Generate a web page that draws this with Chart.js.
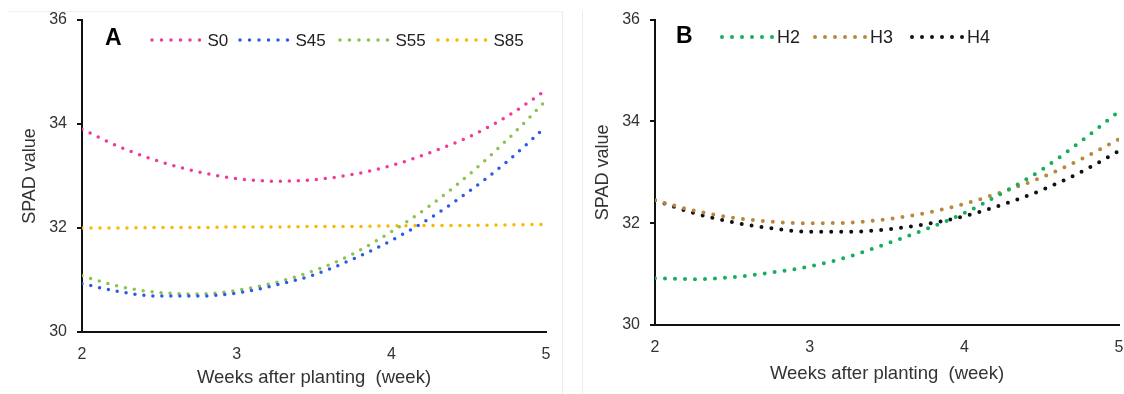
<!DOCTYPE html>
<html><head><meta charset="utf-8">
<script src="https://cdn.jsdelivr.net/npm/chart.js@4.4.1/dist/chart.umd.min.js"></script>
<style>
html,body{margin:0;padding:0;background:#fff;width:1124px;height:394px;overflow:hidden;position:relative;}
#wrapA{position:absolute;left:0;top:0;width:562px;height:394px;}
#wrapB{position:absolute;left:580px;top:0;width:570px;height:394px;}
.frameA{position:absolute;left:7px;top:11px;width:555px;height:390px;border-top:1px solid #f0f0f0;border-right:1px solid #ebebeb;}
.frameB{position:absolute;left:582px;top:11px;width:550px;height:390px;border-left:1px solid #ebebeb;}
canvas{position:absolute;left:0;top:0;}
</style></head><body>
<div class="frameA"></div><div class="frameB"></div>
<div id="wrapA"><canvas id="chartA" width="562" height="394"></canvas></div>
<div id="wrapB"><canvas id="chartB" width="570" height="394"></canvas></div>
<script>
// ---- data ----
const weeks = [2, 2.25, 2.5, 2.75, 3, 3.25, 3.5, 3.75, 4, 4.25, 4.5, 4.75, 5];
const xTickValues = [2, 3, 4, 5];
const yTickValues = [30, 32, 34, 36];

const namesA = ['S0', 'S45', 'S55', 'S85'];
const S0  = [33.90, 33.55, 33.28, 33.08, 32.95, 32.90, 32.93, 33.03, 33.20, 33.45, 33.75, 34.15, 34.65];
const S45 = [30.93, 30.77, 30.69, 30.69, 30.75, 30.90, 31.10, 31.40, 31.76, 32.19, 32.70, 33.28, 33.95];
const S55 = [31.08, 30.87, 30.76, 30.73, 30.80, 30.95, 31.18, 31.50, 31.93, 32.43, 33.02, 33.70, 34.45];
const S85 = [32.00, 32.00, 32.01, 32.01, 32.02, 32.02, 32.03, 32.03, 32.04, 32.05, 32.05, 32.06, 32.07];

const namesB = ['H2', 'H3', 'H4'];
const H2 = [30.92, 30.90, 30.94, 31.03, 31.15, 31.34, 31.60, 31.88, 32.20, 32.60, 33.05, 33.60, 34.20];
const H3 = [32.45, 32.25, 32.11, 32.03, 32.00, 32.01, 32.08, 32.20, 32.38, 32.62, 32.90, 33.25, 33.65];
const H4 = [32.45, 32.20, 32.02, 31.90, 31.83, 31.83, 31.88, 31.98, 32.14, 32.37, 32.65, 33.00, 33.42];

const xTitle = 'Weeks after planting  (week)';
const yTitle = 'SPAD value';
// --------------------------------------

const FONT = '"Liberation Sans", Arial, sans-serif';
Chart.defaults.font.family = FONT;

const insideLegend = {
  id: 'insideLegend',
  afterDraw(chart, args, o) {
    const ctx = chart.ctx;
    ctx.save();
    ctx.textBaseline = 'middle';
    ctx.textAlign = 'left';
    ctx.fillStyle = '#000';
    ctx.font = 'bold ' + o.letterSize + 'px ' + FONT;
    ctx.fillText(o.letter, o.letterX, o.letterY);
    chart.data.datasets.forEach((ds, i) => {
      const x0 = o.starts[i];
      ctx.beginPath();
      ctx.setLineDash([0, o.dotGap]);
      ctx.lineCap = 'round';
      ctx.lineWidth = o.dotSize;
      ctx.strokeStyle = ds.borderColor;
      ctx.moveTo(x0, o.y);
      ctx.lineTo(x0 + o.dotGap * 5 + 0.1, o.y);
      ctx.stroke();
      ctx.setLineDash([]);
      ctx.fillStyle = '#222';
      ctx.font = o.fontSize + 'px ' + FONT;
      ctx.fillText(ds.label, x0 + o.dotGap * 5 + o.textGap, o.y + 1);
    });
    ctx.restore();
  }
};

function makeDataset(label, values, color, dash, width) {
  return {
    label: label,
    data: weeks.map((w, i) => ({ x: w, y: values[i] })),
    borderColor: color,
    backgroundColor: color,
    borderWidth: width,
    borderDash: [0, dash],
    borderCapStyle: 'round',
    pointRadius: 0,
    fill: false,
    cubicInterpolationMode: 'monotone'
  };
}

function makeChart(id, H, area, datasets, legendOpts, yTitlePad, xTitlePad) {
  const W = document.getElementById(id).width;
  return new Chart(document.getElementById(id), {
    type: 'line',
    data: { datasets: datasets },
    options: {
      responsive: false,
      animation: false,
      devicePixelRatio: 1,
      layout: { padding: { left: 0, top: area.top, right: W - area.right, bottom: 0 } },
      plugins: {
        legend: { display: false },
        tooltip: { enabled: false },
        insideLegend: legendOpts
      },
      scales: {
        x: {
          type: 'linear', min: 2, max: 5,
          afterBuildTicks: s => { s.ticks = xTickValues.map(v => ({ value: v })); },
          afterFit: s => { s.height = H - area.bottom; },
          grid: { display: false },
          border: { display: true, color: '#111', width: 2 },
          ticks: { color: '#333', font: { size: 16 }, padding: 5, maxRotation: 0, autoSkip: false },
          title: { display: true, text: xTitle, color: '#333', font: { size: 18.5 }, padding: { top: 0, bottom: xTitlePad } }
        },
        y: {
          type: 'linear', min: 30, max: 36,
          afterBuildTicks: s => { s.ticks = yTickValues.map(v => ({ value: v })); },
          afterFit: s => { s.width = area.left; },
          grid: { display: true, drawOnChartArea: false, drawTicks: true, tickLength: 5, color: '#111', lineWidth: 2 },
          border: { display: true, color: '#111', width: 2 },
          ticks: { color: '#333', font: { size: 16 }, padding: 10 },
          title: { display: true, text: yTitle, color: '#333', font: { size: 18 }, padding: { top: yTitlePad, bottom: 0 } }
        }
      }
    },
    plugins: [insideLegend]
  });
}

makeChart('chartA', 394, { left: 82, right: 546, top: 20, bottom: 332 }, [
  makeDataset(namesA[0], S0, '#F2399A', 9, 3.5),
  makeDataset(namesA[1], S45, '#2A5BE6', 9, 3.5),
  makeDataset(namesA[2], S55, '#8DC24E', 9, 3.5),
  makeDataset(namesA[3], S85, '#F7B900', 9, 3.5)
], { letter: 'A', letterX: 105, letterY: 39, letterSize: 23, y: 40, starts: [152, 240, 340, 438], dotGap: 9.5, dotSize: 3.5, textGap: 8, fontSize: 17 }, 19, 5);

makeChart('chartB', 394, { left: 75, right: 539, top: 17, bottom: 325 }, [
  makeDataset(namesB[0], H2, '#14AE5C', 10, 4),
  makeDataset(namesB[1], H3, '#B8883C', 10, 4),
  makeDataset(namesB[2], H4, '#111111', 10, 4)
], { letter: 'B', letterX: 96, letterY: 37, letterSize: 23, y: 37, starts: [142, 235, 332], dotGap: 10, dotSize: 4, textGap: 5, fontSize: 18 }, 12, 9);
</script>
</body></html>
